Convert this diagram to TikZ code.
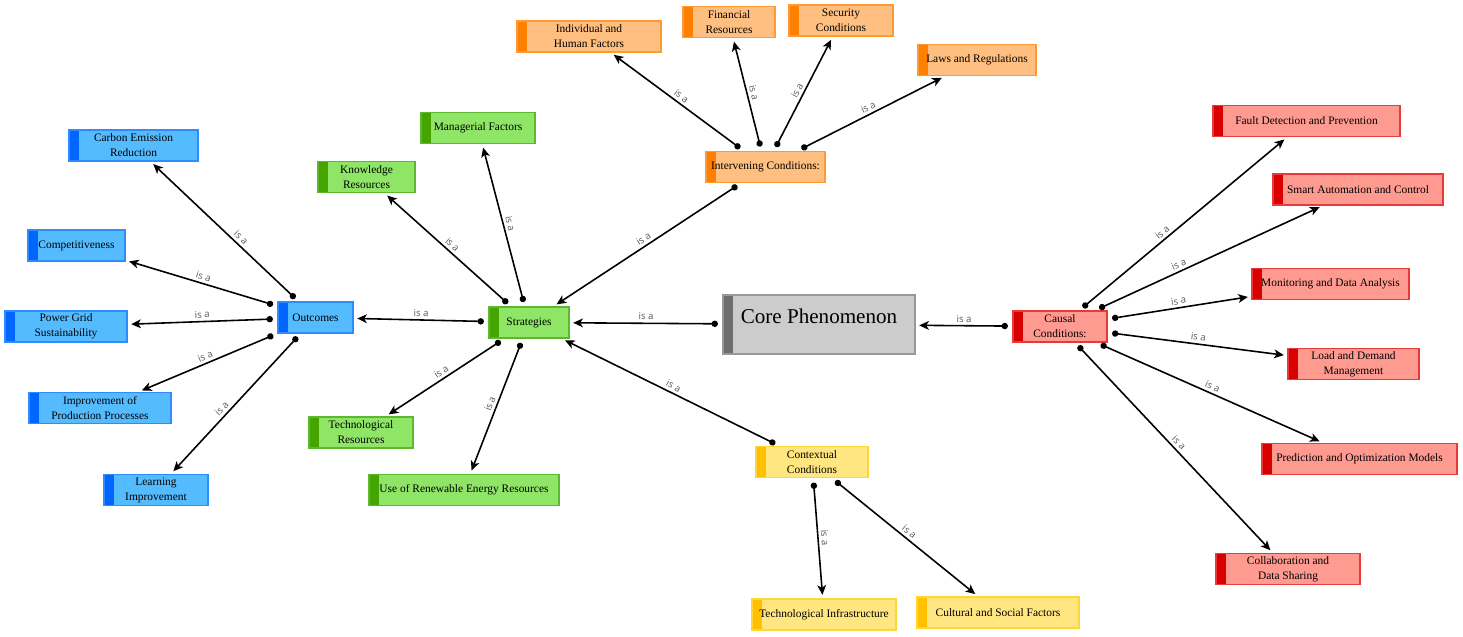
\documentclass[tikz,border=0pt]{standalone}
\usepackage{fontspec}
\setmainfont{Liberation Serif}
\newfontfamily\isafont{Open Sans}
\usetikzlibrary{arrows.meta}

\definecolor{bluefill}{HTML}{55BBFF}
\definecolor{bluebar}{HTML}{0066FF}
\definecolor{bluebd}{HTML}{2E8CFF}
\definecolor{greenfill}{HTML}{8FE566}
\definecolor{greenbar}{HTML}{44A500}
\definecolor{greenbd}{HTML}{5CB82E}
\definecolor{orangefill}{HTML}{FFBF80}
\definecolor{orangebar}{HTML}{FF7F00}
\definecolor{orangebd}{HTML}{FF9933}
\definecolor{redfill}{HTML}{FF9A90}
\definecolor{redbar}{HTML}{D90000}
\definecolor{redbd}{HTML}{E83A3A}
\definecolor{yellowfill}{HTML}{FFE680}
\definecolor{yellowbar}{HTML}{FFC000}
\definecolor{yellowbd}{HTML}{FFD633}
\definecolor{grayfill}{HTML}{CCCCCC}
\definecolor{graybar}{HTML}{6E6E6E}
\definecolor{graybd}{HTML}{999999}

\tikzset{
  concept/.style n args={3}{draw=#1, fill=#2, line width=0.8pt, rectangle,
    minimum height=0.62cm, inner sep=1pt, align=center,
    font=\fontsize{6.5}{8.5}\selectfont,
    path picture={\fill[#3] (path picture bounding box.south west)
      rectangle ([xshift=0.2cm]path picture bounding box.north west);}},
  outbox/.style={concept={bluebd}{bluefill}{bluebar}},
  stratbox/.style={concept={greenbd}{greenfill}{greenbar}},
  intbox/.style={concept={orangebd}{orangefill}{orangebar}},
  causebox/.style={concept={redbd}{redfill}{redbar}},
  ctxbox/.style={concept={yellowbd}{yellowfill}{yellowbar}},
  corebox/.style={concept={graybd}{grayfill}{graybar}},
  isa/.style={line width=0.9pt, {Circle[length=3.6pt]}-{Stealth[length=5.5pt,width=5pt,inset=1.5pt]},
    shorten <=2.5pt, shorten >=2pt},
  lbl/.style={font=\isafont\fontsize{5.5}{6}\selectfont, text=black!65, sloped, above, inner sep=1.5pt}
}

\begin{document}
\begin{tikzpicture}[x=0.02cm, y=-0.02cm]
    \useasboundingbox (0,0) rectangle (1463,636);

    % core
    \node[corebox, minimum width=3.84cm, minimum height=1.18cm, text depth=9pt,
      font=\fontsize{12}{14}\selectfont] (core) at (819,324.5) {Core Phenomenon};

    % outcomes
    \node[outbox, minimum width=1.5cm] (outcomes) at (315.5,317.5) {Outcomes};
    \node[outbox, minimum width=2.58cm] (carbon) at (133.5,145.5) {Carbon Emission\\Reduction};
    \node[outbox, minimum width=1.94cm] (compet) at (76.5,245.5) {Competitiveness};
    \node[outbox, minimum width=2.44cm] (powergrid) at (66,326.5) {Power Grid\\Sustainability};
    \node[outbox, minimum width=2.84cm] (improv) at (100,408) {Improvement of\\Production Processes};
    \node[outbox, minimum width=2.08cm] (learning) at (156,490) {Learning\\Improvement};

    % strategies
    \node[stratbox, minimum width=1.6cm] (strategies) at (529,322.5) {Strategies};
    \node[stratbox, minimum width=2.28cm] (managerial) at (478,128) {Managerial Factors};
    \node[stratbox, minimum width=1.94cm] (knowledge) at (366.5,177) {Knowledge\\Resources};
    \node[stratbox, minimum width=2.08cm] (techres) at (361,432.5) {Technological\\Resources};
    \node[stratbox, minimum width=3.8cm] (renewable) at (464,490) {Use of Renewable Energy Resources};

    % intervening conditions
    \node[intbox, minimum width=2.38cm] (intervening) at (765.5,167) {Intervening Conditions:};
    \node[intbox, minimum width=2.88cm] (individual) at (589,36.5) {Individual and\\Human Factors};
    \node[intbox, minimum width=1.84cm] (financial) at (729,22) {Financial\\Resources};
    \node[intbox, minimum width=2.08cm] (security) at (841,20.5) {Security\\Conditions};
    \node[intbox, minimum width=2.36cm] (laws) at (977,60) {Laws and Regulations};

    % contextual conditions
    \node[ctxbox, minimum width=2.24cm] (contextual) at (812,462) {Contextual\\Conditions};
    \node[ctxbox, minimum width=2.88cm] (techinfra) at (824,614.5) {Technological Infrastructure};
    \node[ctxbox, minimum width=3.24cm] (cultural) at (998,612.5) {Cultural and Social Factors};

    % causal conditions
    \node[causebox, minimum width=1.88cm] (causal) at (1060,326.5) {Causal\\Conditions:};
    \node[causebox, minimum width=3.74cm] (fault) at (1306.5,121) {Fault Detection and Prevention};
    \node[causebox, minimum width=3.4cm] (smart) at (1358,189.5) {Smart Automation and Control};
    \node[causebox, minimum width=3.14cm] (monitoring) at (1330.5,284) {Monitoring and Data Analysis};
    \node[causebox, minimum width=2.62cm] (load) at (1353.5,364) {Load and Demand\\Management};
    \node[causebox, minimum width=3.9cm] (prediction) at (1359.5,459) {Prediction and Optimization Models};
    \node[causebox, minimum width=2.88cm] (collab) at (1288,569) {Collaboration and\\Data Sharing};

    % links
    \draw[isa] (outcomes) -- node[lbl, pos=0.42] {is a} (carbon);
    \draw[isa] (outcomes) -- node[lbl] {is a} (compet);
    \draw[isa] (outcomes) -- node[lbl] {is a} (powergrid);
    \draw[isa] (outcomes) -- node[lbl] {is a} (improv);
    \draw[isa] (outcomes) -- node[lbl, pos=0.57] {is a} (learning);

    \draw[isa] (strategies) -- node[lbl] {is a} (outcomes);
    \draw[isa] (strategies) -- node[lbl] {is a} (knowledge);
    \draw[isa] (strategies) -- node[lbl] {is a} (managerial);
    \draw[isa] (strategies) -- node[lbl] {is a} (techres);
    \draw[isa] (strategies) -- node[lbl] {is a} (renewable);

    \draw[isa] (intervening) -- node[lbl] {is a} (strategies);
    \draw[isa] (intervening) -- node[lbl] {is a} (individual);
    \draw[isa] (intervening) -- node[lbl] {is a} (financial);
    \draw[isa] (intervening) -- node[lbl] {is a} (security);
    \draw[isa] (intervening) -- node[lbl] {is a} (laws);

    \draw[isa] (core) -- node[lbl] {is a} (strategies);

    \draw[isa] (contextual) -- node[lbl] {is a} (strategies);
    \draw[isa] (contextual) -- node[lbl] {is a} (techinfra);
    \draw[isa] (contextual) -- node[lbl] {is a} (cultural);

    \draw[isa] (causal) -- node[lbl] {is a} (core);
    \draw[isa] (causal) -- node[lbl, pos=0.42] {is a} (fault);
    \draw[isa] (causal) -- node[lbl, pos=0.38] {is a} (smart);
    \draw[isa] (causal) -- node[lbl] {is a} (monitoring);
    \draw[isa] (causal) -- node[lbl] {is a} (load);
    \draw[isa] (causal) -- node[lbl] {is a} (prediction);
    \draw[isa] (causal) -- node[lbl] {is a} (collab);
\end{tikzpicture}
\end{document}
